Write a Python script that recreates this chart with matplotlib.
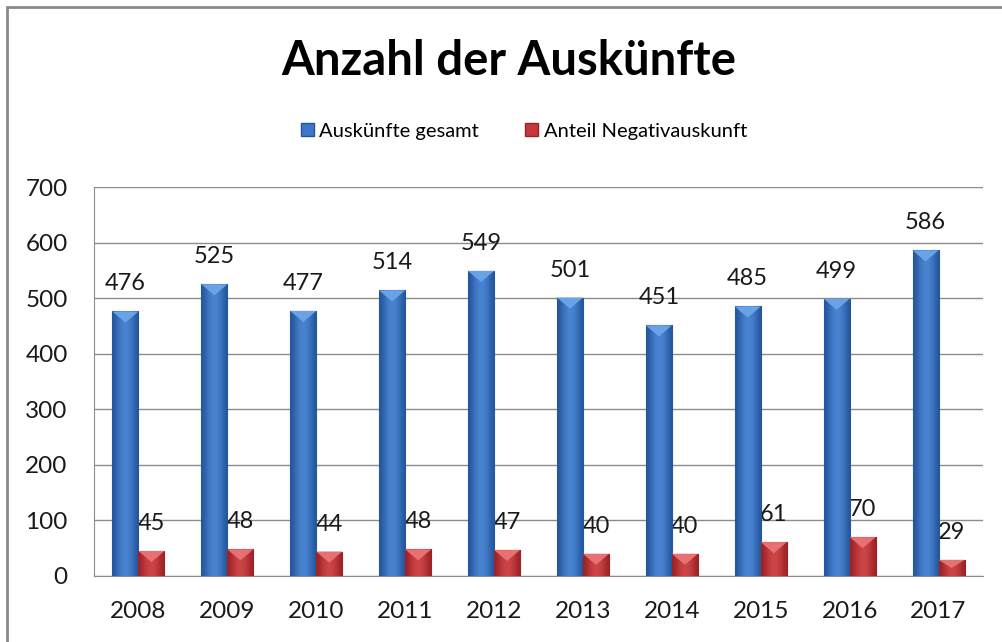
import numpy as np
import matplotlib
matplotlib.use("Agg")
import matplotlib.pyplot as plt
from matplotlib.patches import Rectangle, Polygon

# data
years = ["2008", "2009", "2010", "2011", "2012", "2013", "2014", "2015", "2016", "2017"]
total = [476, 525, 477, 514, 549, 501, 451, 485, 499, 586]
negative = [45, 48, 44, 48, 47, 40, 40, 61, 70, 29]
series_names = ["Auskünfte gesamt", "Anteil Negativauskunft"]
title = "Anzahl der Auskünfte"

plt.rcParams['font.family'] = ['Lato', 'DejaVu Sans']

W, H = 1003, 642
fig = plt.figure(figsize=(W / 100, H / 100), dpi=100)
ax = fig.add_axes([94 / W, (H - 576) / H, (983 - 94) / W, (576 - 187) / H])

x = np.arange(len(years))
bw = 0.293


def shaded_bars(xs, vals, base, dark, light, top):
    bars = ax.bar(xs, vals, bw, color=base, edgecolor=dark, linewidth=0.8, zorder=3)
    grad = np.array([[0.0, 0.45, 0.75, 0.9, 0.75, 0.45, 0.0]])
    cmap = matplotlib.colors.LinearSegmentedColormap.from_list("g", [dark, light])
    for b in bars:
        x0, w, h = b.get_x(), b.get_width(), b.get_height()
        im = ax.imshow(grad, cmap=cmap, vmin=0, vmax=1, aspect='auto',
                       extent=(x0, x0 + w, 0, h), zorder=3.5, interpolation='bicubic')
        im.set_clip_path(b)
        # bevel on top of the bar
        d = min(20, h * 0.5)
        tri = Polygon([(x0, h), (x0 + w, h), (x0 + w / 2, h - d)], closed=True,
                      facecolor=top, edgecolor='none', zorder=4)
        ax.add_patch(tri)
    return bars


b1 = shaded_bars(x - bw / 2, total, "#3c78c8", "#24569c", "#4f8ad8", "#6aa2e6")
b2 = shaded_bars(x + bw / 2, negative, "#c43a3c", "#9c2226", "#d44a4c", "#e77073")

for xi, v in zip(x - bw / 2, total):
    ax.annotate(str(v), (xi, v), xytext=(0, 17), textcoords='offset pixels',
                ha='center', va='bottom', fontsize=17, color='#1a1a1a')
for xi, v in zip(x + bw / 2, negative):
    ax.annotate(str(v), (xi, v), xytext=(0, 17), textcoords='offset pixels',
                ha='center', va='bottom', fontsize=17, color='#1a1a1a')

ax.set_xlim(-0.5, len(years) - 0.5)
ax.set_ylim(0, 700)
ax.set_yticks(range(0, 701, 100))
ax.set_xticks(x)
ax.set_xticklabels(years)
ax.tick_params(axis='both', length=0, labelsize=17.5, colors='#1a1a1a')
ax.tick_params(axis='y', pad=19)
ax.tick_params(axis='x', pad=18)
ax.grid(axis='y', color='#8c8c8c', linewidth=1.0, zorder=0)
ax.set_axisbelow(True)
for s in ['top', 'right']:
    ax.spines[s].set_visible(False)
ax.spines['left'].set_color('#8c8c8c')
ax.spines['bottom'].set_color('#8c8c8c')

fig.text(509 / W, 1 - 61 / H, title, ha='center', va='center',
         fontsize=34, fontweight='bold', color='black')

handles = [Rectangle((0, 0), 1, 1, facecolor="#3c78c8", edgecolor="#24569c"),
           Rectangle((0, 0), 1, 1, facecolor="#c43a3c", edgecolor="#9c2226")]
fig.legend(handles, series_names, loc='center', bbox_to_anchor=(524 / W, 1 - 131 / H),
           ncol=2, frameon=False, fontsize=14.5, handlelength=0.65, handleheight=0.65,
           handletextpad=0.25, columnspacing=2.3)

# outer chart border
fig.patches.append(Rectangle((7 / W, -0.05), 1.1, 1 - 7 / H + 0.05, transform=fig.transFigure,
                             fill=False, edgecolor='#8a8a8a', linewidth=2))

fig.savefig("out.png", dpi=100)
